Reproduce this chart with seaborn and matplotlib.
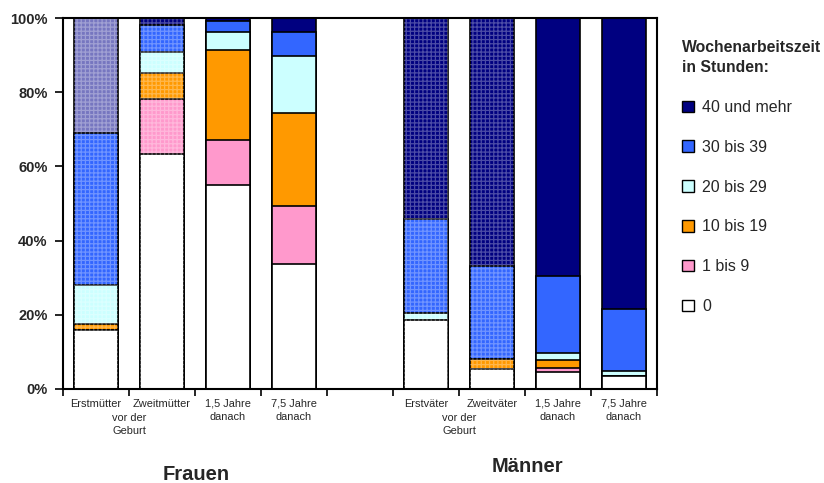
import numpy as np
import pandas as pd
import matplotlib.pyplot as plt
import seaborn as sns
from matplotlib.patches import Patch

sns.set_theme(style="ticks")
plt.rcParams["font.family"] = ["Liberation Sans", "DejaVu Sans"]
plt.rcParams["hatch.linewidth"] = 0.9

# data (percent of each group)
bar_keys = ["F1", "F2", "F3", "F4", "gap", "M1", "M2", "M3", "M4"]
bar_labels = ["Erstmütter", "Zweitmütter", "1,5 Jahre\ndanach", "7,5 Jahre\ndanach", "",
              "Erstväter", "Zweitväter", "1,5 Jahre\ndanach", "7,5 Jahre\ndanach"]
groups = ["F1", "F2", "F3", "F4", "M1", "M2", "M3", "M4"]
hatched = ["F1", "F2", "M1", "M2"]

categories = ["0", "1 bis 9", "10 bis 19", "20 bis 29", "30 bis 39", "40 und mehr"]
h_0 = [16.0, 63.4, 55.0, 33.8, 18.7, 5.5, 4.7, 3.6]
h_1_9 = [0.0, 14.7, 12.2, 15.5, 0.0, 0.0, 0.9, 0.0]
h_10_19 = [1.4, 7.2, 24.3, 25.0, 0.0, 2.7, 2.2, 0.0]
h_20_29 = [10.6, 5.5, 4.7, 15.5, 1.8, 0.0, 2.0, 1.3]
h_30_39 = [41.1, 7.4, 3.1, 6.3, 25.3, 25.0, 20.6, 16.6]
h_40 = [30.9, 1.8, 0.7, 3.9, 54.2, 66.8, 69.6, 78.5]

colors = ["#FFFFFF", "#FF99CC", "#FF9900", "#CCFFFF", "#3366FF", "#000080"]

df = pd.DataFrame({"bar": groups, "0": h_0, "1 bis 9": h_1_9, "10 bis 19": h_10_19,
                   "20 bis 29": h_20_29, "30 bis 39": h_30_39, "40 und mehr": h_40})
cum = df[categories].cumsum(axis=1)

fig = plt.figure(figsize=(8.24, 4.83), dpi=100)
ax = fig.add_axes([63 / 824, 1 - 389 / 483, 594 / 824, 371 / 483])

# stacked bars: draw the cumulative totals from the top down
for cat, col in reversed(list(zip(categories, colors))):
    sns.barplot(x=df["bar"], y=cum[cat], order=bar_keys, color=col, saturation=1,
                width=0.68, edgecolor="black", linewidth=1.2, errorbar=None, ax=ax)

# lighter face for the first mothers' top segment
x_pos = {k: i for i, k in enumerate(bar_keys)}
for p in ax.patches:
    cx = p.get_x() + p.get_width() / 2
    if abs(cx - x_pos["F1"]) < 0.1 and p.get_height() > 99:
        p.set_facecolor("#7676C0")

# dotted texture on the "vor der Geburt" bars
sub = df[df["bar"].isin(hatched)]
xs = [x_pos[b] for b in sub["bar"]]
below = 0
for cat in categories:
    ax.bar(xs, sub[cat], bottom=below, width=0.68, fill=False, linewidth=0,
           hatch="++++", edgecolor=(1, 1, 1, 0.3))
    below = below + sub[cat].values

ax.set_xlim(-0.5, 8.5)
ax.set_ylim(0, 100)
ax.set_xlabel("")
ax.set_ylabel("")
ax.set_yticks(np.arange(0, 101, 20), labels=[f"{v}%" for v in range(0, 101, 20)],
              fontsize=10.5, fontweight="bold")
ax.set_xticks(np.arange(-0.5, 9, 1.0), labels=[""] * 10)
ax.set_xticks(np.arange(9), labels=bar_labels, minor=True, fontsize=7.9, linespacing=1.35)
ax.tick_params(axis="x", which="major", length=5, width=1.2, color="black")
ax.tick_params(axis="x", which="minor", length=0, pad=7)
ax.tick_params(axis="y", length=6, width=1.2, color="black", pad=5)
for s in ax.spines.values():
    s.set_visible(True)
    s.set_color("black")
    s.set_linewidth(1.5)

for xv in [0.5, 5.5]:
    ax.text(xv, -0.064, "vor der\nGeburt", transform=ax.get_xaxis_transform(),
            ha="center", va="top", fontsize=7.9, linespacing=1.35)

fig.text(196 / 824, 1 - 480 / 483, "Frauen", ha="center", va="baseline",
         fontsize=14.5, fontweight="bold")
fig.text(527 / 824, 1 - 472 / 483, "Männer", ha="center", va="baseline",
         fontsize=14.5, fontweight="bold")

handles = [Patch(facecolor=c, edgecolor="black", linewidth=1.0) for c in colors]
leg = fig.legend(handles[::-1], categories[::-1], loc="upper left",
                 bbox_to_anchor=(682 / 824, 1 - 40 / 483), frameon=False,
                 title="Wochenarbeitszeit\nin Stunden:", alignment="left",
                 title_fontproperties={"weight": "bold", "size": 11.3},
                 fontsize=11.5, labelspacing=1.55, handlelength=0.75, handleheight=0.75,
                 handletextpad=0.5, borderpad=0, borderaxespad=0)
leg.get_title().set_linespacing(1.45)

plt.savefig("out.png", dpi=100)
